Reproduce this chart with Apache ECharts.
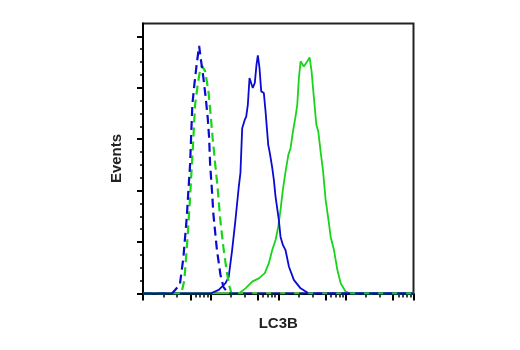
<!DOCTYPE html>
<html lang="en">
<head>
  <meta charset="UTF-8">
  <title>LC3B Events</title>
  <script src="https://cdn.jsdelivr.net/npm/echarts@6/dist/echarts.min.js"></script>
  <style>
    body { margin: 0; background: #fff; }
    #chart { width: 520px; height: 350px; }
  </style>
</head>
<body>
  <div id="chart"></div>
<script>
  // fluorescence (log scale) and event counts
  const blueDashedX = [1, 2.69, 3.51, 3.95, 4.43, 4.69, 4.97, 5.14, 5.37, 5.75, 6.22, 6.76, 7.23, 7.82, 8.46, 9.06, 9.5, 9.83, 10.4, 11.0, 12.4, 14.0, 15.5, 18.4, 10000];
  const blueDashedY = [0, 0, 35, 138, 294, 399, 502, 606, 735, 813, 891, 963, 904, 839, 761, 683, 606, 502, 411, 307, 169, 72, 25, 0, 0];

  const greenDashedX = [1, 3.69, 4.09, 4.53, 4.94, 5.28, 5.56, 5.89, 6.44, 6.99, 7.43, 8.29, 9.28, 10.0, 10.7, 11.7, 12.7, 13.8, 15.5, 17.3, 19.0, 20.3, 10000];
  const greenDashedY = [0, 0, 53, 208, 364, 500, 606, 734, 812, 870, 886, 865, 787, 696, 606, 502, 411, 294, 177, 86, 28, 0, 0];

  const blueX = [1, 9.93, 13.2, 16.6, 18.5, 20.8, 23.3, 26.1, 27.6, 29.3, 32.0, 33.6, 35.5, 37.6, 38.9, 42.0, 45.0, 47.7, 49.9, 52.8, 56.0, 61.2, 64.9, 71.1, 75.1, 81.5, 86.1, 91.2, 102, 108, 117, 128, 144, 170, 214, 284, 10000];
  const blueY = [0, 0, 14, 40, 65, 169, 286, 416, 469, 643, 676, 688, 734, 838, 844, 799, 819, 890, 926, 877, 786, 780, 708, 578, 546, 489, 442, 377, 286, 221, 189, 169, 104, 53, 20, 0, 0];

  const greenX = [1, 26.1, 32.8, 41.2, 51.6, 63.3, 72.6, 81.5, 91.2, 100, 108, 117, 128, 141, 152, 165, 180, 191, 202, 214, 221, 239, 269, 291, 311, 337, 366, 391, 423, 458, 502, 562, 595, 667, 748, 838, 993, 1178, 10000];
  const greenY = [0, 0, 20, 46, 59, 79, 118, 169, 208, 260, 325, 403, 473, 539, 565, 630, 688, 734, 838, 903, 909, 883, 903, 918, 864, 760, 656, 630, 552, 481, 364, 273, 221, 169, 92, 40, 7, 0, 0];

  // axis ticks
  const xMajorTicks = [1, 5, 10, 50, 100, 500, 1000, 5000, 10000];
  const xMinorTicks = [2, 3.2, 6, 7, 8, 9, 20, 32, 60, 70, 80, 90, 200, 320, 600, 700, 800, 900, 2000, 3200, 6000, 7000, 8000, 9000];
  const yMajorTicks = [0, 200, 400, 600, 800, 1000];
  const yMinorTicks = [50, 100, 150, 250, 300, 350, 450, 500, 550, 650, 700, 750, 850, 900, 950];

  const BLUE = '#0a0ad2';
  const GREEN = '#1ad41a';

  const zip = (xs, ys) => xs.map((x, i) => [x, ys[i]]);

  const chart = echarts.init(document.getElementById('chart'));
  const tickStyle = { color: '#000', width: 2 };

  chart.setOption({
    animation: false,
    backgroundColor: '#fff',
    textStyle: { fontFamily: 'Liberation Sans, Arial, sans-serif' },
    grid: {
      left: 143,
      right: 106.5,
      top: 23.5,
      bottom: 56.5,
      show: true,
      borderColor: '#222',
      borderWidth: 2
    },
    xAxis: [
      {
        type: 'log',
        logBase: 10,
        min: 1,
        max: 10000,
        name: 'LC3B',
        nameLocation: 'middle',
        nameGap: 23,
        nameTextStyle: { fontSize: 15, fontWeight: 'bold', color: '#222' },
        axisLine: { lineStyle: { color: '#000', width: 2 } },
        axisTick: { inside: false, length: 7, lineStyle: tickStyle, customValues: xMajorTicks },
        axisLabel: { show: false },
        splitLine: { show: false }
      },
      {
        type: 'log',
        logBase: 10,
        min: 1,
        max: 10000,
        position: 'bottom',
        axisLine: { show: false },
        axisTick: { inside: false, length: 4, lineStyle: { color: '#000', width: 1.5 }, customValues: xMinorTicks },
        axisLabel: { show: false },
        splitLine: { show: false }
      }
    ],
    yAxis: [
      {
        type: 'value',
        min: 0,
        max: 1050,
        name: 'Events',
        nameLocation: 'middle',
        nameGap: 19,
        nameTextStyle: { fontSize: 15, fontWeight: 'bold', color: '#222' },
        axisLine: { show: true, lineStyle: { color: '#000', width: 2 } },
        axisTick: { show: true, inside: false, length: 6, lineStyle: tickStyle, customValues: yMajorTicks },
        axisLabel: { show: false },
        splitLine: { show: false }
      },
      {
        type: 'value',
        min: 0,
        max: 1050,
        position: 'left',
        axisLine: { show: false },
        axisTick: { show: true, inside: false, length: 3, lineStyle: { color: '#000', width: 1.5 }, customValues: yMinorTicks },
        axisLabel: { show: false },
        splitLine: { show: false }
      }
    ],
    series: [
      {
        name: 'green',
        type: 'line',
        data: zip(greenX, greenY),
        showSymbol: false,
        lineStyle: { color: GREEN, width: 1.8 }
      },
      {
        name: 'blue',
        type: 'line',
        data: zip(blueX, blueY),
        showSymbol: false,
        lineStyle: { color: BLUE, width: 1.8 }
      },
      {
        name: 'green dashed',
        type: 'line',
        data: zip(greenDashedX, greenDashedY),
        showSymbol: false,
        lineStyle: { color: GREEN, width: 2.2, type: [9, 5] }
      },
      {
        name: 'blue dashed',
        type: 'line',
        data: zip(blueDashedX, blueDashedY),
        showSymbol: false,
        lineStyle: { color: BLUE, width: 2.2, type: [9, 5] }
      }
    ]
  });
</script>
</body>
</html>
